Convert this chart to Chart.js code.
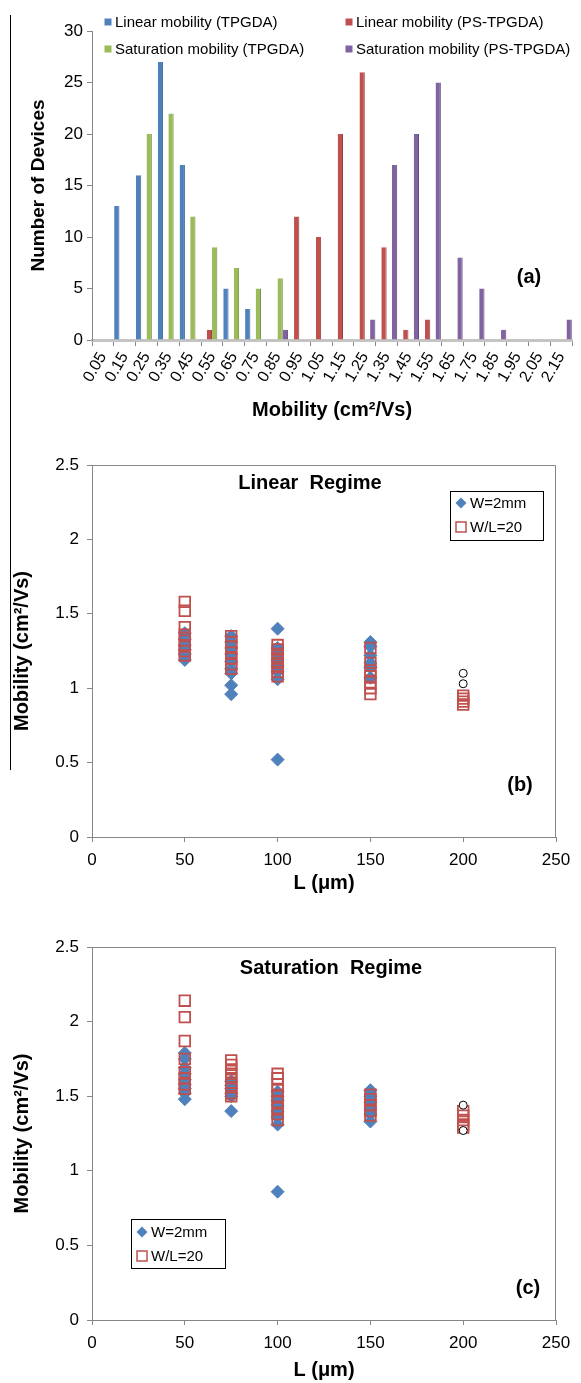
<!DOCTYPE html>
<html>
<head>
<meta charset="utf-8">
<script src="https://cdn.jsdelivr.net/npm/chart.js@4.4.1/dist/chart.umd.min.js"></script>
<style>
    body { margin: 0; background: #fff; width: 581px; height: 1383px; position: relative; overflow: hidden; }
    canvas { position: absolute; left: 0; }
    #sideLine { position: absolute; left: 10px; top: 15px; width: 1px; height: 755px; background: #000; }
</style>
</head>
<body>
<div id="sideLine"></div>
<canvas id="histChart" width="581" height="422" style="top:0"></canvas>
<canvas id="linChart" width="581" height="455" style="top:440px"></canvas>
<canvas id="satChart" width="581" height="462" style="top:920px"></canvas>
<script>
// (a) histogram of mobility bins
const binLabels = ['0.05', '0.15', '0.25', '0.35', '0.45', '0.55', '0.65', '0.75', '0.85', '0.95', '1.05',
    '1.15', '1.25', '1.35', '1.45', '1.55', '1.65', '1.75', '1.85', '1.95', '2.05', '2.15'];
const linearTPGDA   = [0, 13, 16, 27, 17, 0, 5, 3, 0, 0, 0, 0, 0, 0, 0, 0, 0, 0, 0, 0, 0, 0];
const linearPSTPGDA = [0, 0, 0, 0, 0, 1, 0, 0, 0, 12, 10, 20, 26, 9, 1, 2, 0, 0, 0, 0, 0, 0];
const satTPGDA      = [0, 0, 20, 22, 12, 9, 7, 5, 6, 0, 0, 0, 0, 0, 0, 0, 0, 0, 0, 0, 0, 0];
const satPSTPGDA    = [0, 0, 0, 0, 0, 0, 0, 0, 1, 0, 0, 0, 2, 17, 20, 25, 8, 5, 1, 0, 0, 2];

// (b), (c) mobility vs channel length, one inner list per length
const lengthsUm = [50, 75, 100, 150, 200];
const linW2mm = [
    [1.37, 1.33, 1.29, 1.26, 1.23, 1.19],
    [1.35, 1.31, 1.27, 1.23, 1.18, 1.13, 1.10, 1.02, 0.96],
    [1.40, 1.27, 1.23, 1.19, 1.15, 1.11, 1.06, 0.52],
    [1.31, 1.28, 1.22, 1.17, 1.14, 1.07],
    []
];
const linWL20 = [
    [1.58, 1.52, 1.41, 1.36, 1.32, 1.28, 1.25, 1.22],
    [1.35, 1.31, 1.28, 1.24, 1.20, 1.16, 1.13],
    [1.29, 1.26, 1.23, 1.20, 1.17, 1.14, 1.11, 1.08],
    [1.27, 1.17, 1.12, 1.08, 1.04, 1.00, 0.96],
    [0.95, 0.93, 0.91, 0.89]
];
const linOpen = [[], [], [], [], [1.10, 1.03]];
const satW2mm = [
    [1.79, 1.75, 1.69, 1.65, 1.61, 1.58, 1.55, 1.52, 1.48],
    [1.60, 1.57, 1.55, 1.52, 1.50, 1.40],
    [1.53, 1.50, 1.47, 1.44, 1.40, 1.36, 1.31, 0.86],
    [1.54, 1.50, 1.46, 1.42, 1.38, 1.33],
    []
];
const satWL20 = [
    [2.14, 2.03, 1.87, 1.75, 1.66, 1.62, 1.58, 1.55],
    [1.74, 1.71, 1.68, 1.65, 1.62, 1.59, 1.56, 1.52, 1.50],
    [1.65, 1.62, 1.58, 1.54, 1.50, 1.46, 1.42, 1.38, 1.34],
    [1.51, 1.48, 1.44, 1.40, 1.37],
    [1.40, 1.37, 1.34, 1.31, 1.29]
];
const satOpen = [[], [], [], [], [1.44, 1.27]];

const FONT = "'Liberation Sans', Arial, sans-serif";
Chart.defaults.font.family = FONT;
Chart.defaults.color = '#000';
const AXIS = '#868686';

function toPoints(groups) {
    const pts = [];
    groups.forEach((vals, i) => vals.forEach(v => pts.push({ x: lengthsUm[i], y: v })));
    return pts;
}

// frame, legend boxes and free text drawn on top of the plot
function decor(cfg) {
    return {
        id: 'decor',
        afterDraw(chart) {
            const ctx = chart.ctx;
            const a = chart.chartArea;
            ctx.save();
            if (cfg.frame) {
                ctx.strokeStyle = AXIS;
                ctx.lineWidth = 1;
                ctx.beginPath();
                ctx.moveTo(a.left, a.top + 0.5);
                ctx.lineTo(a.right - 0.5, a.top + 0.5);
                ctx.lineTo(a.right - 0.5, a.bottom);
                ctx.stroke();
            }
            if (cfg.box) {
                const [x, y, w, h] = cfg.box;
                ctx.strokeStyle = '#000';
                ctx.lineWidth = 1;
                ctx.strokeRect(x + 0.5, y + 0.5, w, h);
            }
            (cfg.legend || []).forEach(it => {
                const ds = chart.data.datasets[it.ds];
                const style = ds.pointStyle || 'bar';
                if (style === 'bar') {
                    ctx.fillStyle = ds.backgroundColor;
                    ctx.fillRect(it.x - 3.5, it.y - 3.5, 7, 7);
                } else if (style === 'rectRot') {
                    ctx.fillStyle = ds.backgroundColor;
                    ctx.beginPath();
                    ctx.moveTo(it.x, it.y - 5.5);
                    ctx.lineTo(it.x + 5.5, it.y);
                    ctx.lineTo(it.x, it.y + 5.5);
                    ctx.lineTo(it.x - 5.5, it.y);
                    ctx.closePath();
                    ctx.fill();
                } else {
                    ctx.strokeStyle = ds.borderColor;
                    ctx.lineWidth = 1.5;
                    ctx.strokeRect(it.x - 5, it.y - 5, 10, 10);
                }
                ctx.fillStyle = '#000';
                ctx.font = `${it.size}px ${FONT}`;
                ctx.textAlign = 'left';
                ctx.textBaseline = 'middle';
                ctx.fillText(ds.label, it.tx, it.y + 1);
            });
            (cfg.texts || []).forEach(t => {
                ctx.fillStyle = '#000';
                ctx.font = `bold ${t.size}px ${FONT}`;
                ctx.textAlign = 'center';
                ctx.textBaseline = 'middle';
                ctx.fillText(t.text, t.x, t.y);
            });
            ctx.restore();
        }
    };
}

function barSet(label, data, color, edge) {
    return {
        label, data,
        backgroundColor: color,
        borderColor: edge,
        borderWidth: { top: 0, left: 0, bottom: 0, right: 1 },
        borderSkipped: false,
        categoryPercentage: 0.97,
        barPercentage: 1
    };
}

new Chart(document.getElementById('histChart'), {
    type: 'bar',
    data: {
        labels: binLabels,
        datasets: [
            barSet('Linear mobility (TPGDA)', linearTPGDA, '#4F81BD', '#3A6493'),
            barSet('Linear mobility (PS-TPGDA)', linearPSTPGDA, '#C0504D', '#923D3B'),
            barSet('Saturation mobility (TPGDA)', satTPGDA, '#9BBB59', '#738D40'),
            barSet('Saturation mobility (PS-TPGDA)', satPSTPGDA, '#8064A2', '#5F4A7A')
        ]
    },
    options: {
        responsive: false,
        animation: false,
        layout: { padding: { left: 27, top: 31, right: 7, bottom: 0 } },
        plugins: { legend: { display: false }, tooltip: { enabled: false } },
        scales: {
            x: {
                grid: { drawOnChartArea: false, tickLength: 6, color: AXIS, offset: true },
                border: { color: '#c4c4c4', width: 3 },
                ticks: { minRotation: 60, maxRotation: 60, autoSkip: false, padding: 3, font: { size: 16 } },
                title: { display: true, text: 'Mobility (cm²/Vs)', font: { size: 20, weight: 'bold' }, padding: 0 },
                afterFit: s => { s.height = 82; }
            },
            y: {
                min: 0, max: 30,
                ticks: { stepSize: 5, padding: 4, font: { size: 17 } },
                grid: { drawOnChartArea: false, tickLength: 5, color: AXIS },
                border: { color: AXIS },
                title: { display: true, text: 'Number of Devices', font: { size: 19, weight: 'bold' }, padding: 0 },
                afterFit: s => { s.width = 65; }
            }
        }
    },
    plugins: [decor({
        legend: [
            { ds: 0, x: 108, y: 22, tx: 115, size: 15 },
            { ds: 1, x: 349, y: 22, tx: 356, size: 15 },
            { ds: 2, x: 108, y: 49, tx: 115, size: 15 },
            { ds: 3, x: 349, y: 49, tx: 356, size: 15 }
        ],
        texts: [{ text: '(a)', x: 529, y: 277, size: 20 }]
    })]
});

function scatterChart(id, w2mm, wl20, open, top, cfg) {
    return new Chart(document.getElementById(id), {
        type: 'scatter',
        data: {
            datasets: [
                { label: 'W=2mm', data: toPoints(w2mm), pointStyle: 'rectRot', radius: 6.5,
                  backgroundColor: '#4F81BD', borderColor: '#4F81BD', borderWidth: 1, order: 3 },
                { label: 'W/L=20', data: toPoints(wl20), pointStyle: 'rect', radius: 7.5,
                  backgroundColor: 'rgba(0,0,0,0)', borderColor: '#C0504D', borderWidth: 1.8, order: 2 },
                { label: 'open', data: toPoints(open), pointStyle: 'circle', radius: 4,
                  backgroundColor: '#fff', borderColor: '#000', borderWidth: 1, order: 1 }
            ]
        },
        options: {
            responsive: false,
            animation: false,
            layout: { padding: { left: 10, top: top, right: 25, bottom: 0 } },
            plugins: { legend: { display: false }, tooltip: { enabled: false } },
            scales: {
                x: {
                    type: 'linear', min: 0, max: 250,
                    ticks: { stepSize: 50, padding: 8, font: { size: 17 } },
                    grid: { drawOnChartArea: false, tickLength: 5, color: AXIS },
                    border: { color: AXIS },
                    title: { display: true, text: 'L (μm)', font: { size: 20, weight: 'bold' }, padding: 0 },
                    afterFit: s => { s.height = cfg.xHeight; }
                },
                y: {
                    min: 0, max: 2.5,
                    ticks: { stepSize: 0.5, padding: 8, font: { size: 17 }, callback: v => String(Number(v.toFixed(1))) },
                    grid: { drawOnChartArea: false, tickLength: 5, color: AXIS },
                    border: { color: AXIS },
                    title: { display: true, text: 'Mobility (cm²/Vs)', font: { size: 20, weight: 'bold' }, padding: 0 },
                    afterFit: s => { s.width = 82; }
                }
            }
        },
        plugins: [decor(cfg.decor)]
    });
}

scatterChart('linChart', linW2mm, linWL20, linOpen, 25, {
    xHeight: 58,
    decor: {
        frame: true,
        box: [450, 51, 93, 49],
        legend: [
            { ds: 0, x: 461, y: 63, tx: 470, size: 15 },
            { ds: 1, x: 461, y: 87, tx: 470, size: 15 }
        ],
        texts: [
            { text: 'Linear  Regime', x: 310, y: 43, size: 20 },
            { text: '(b)', x: 520, y: 345, size: 20 }
        ]
    }
});

scatterChart('satChart', satW2mm, satWL20, satOpen, 27, {
    xHeight: 62,
    decor: {
        frame: true,
        box: [131, 299, 94, 49],
        legend: [
            { ds: 0, x: 142, y: 312, tx: 151, size: 15 },
            { ds: 1, x: 142, y: 336, tx: 151, size: 15 }
        ],
        texts: [
            { text: 'Saturation  Regime', x: 331, y: 48, size: 20 },
            { text: '(c)', x: 528, y: 368, size: 20 }
        ]
    }
});
</script>
</body>
</html>
